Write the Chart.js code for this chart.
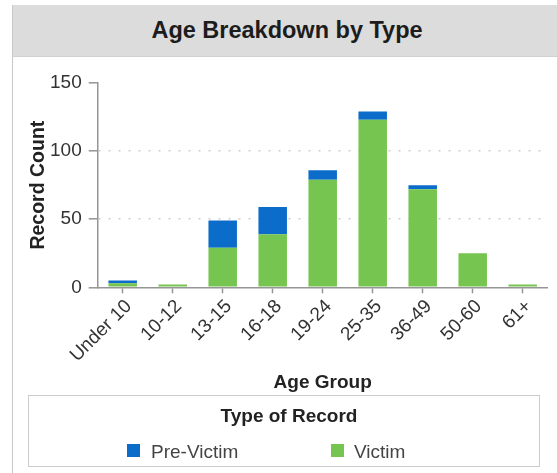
<!DOCTYPE html>
<html>
<head>
<meta charset="utf-8">
<title>Age Breakdown by Type</title>
<script src="https://cdn.jsdelivr.net/npm/chart.js@4.4.1/dist/chart.umd.min.js"></script>
<style>
  html, body { margin: 0; padding: 0; background: #ffffff; }
  body {
    width: 557px; height: 473px; overflow: hidden; position: relative;
    font-family: "Liberation Sans", Arial, Helvetica, sans-serif;
  }
  #panel {
    position: absolute; left: 12px; top: 5px; width: 560px; height: 480px;
    border-left: 1px solid #c8c8c8; border-top: 1px solid #cfcfcf; box-sizing: border-box;
  }
  #header {
    position: absolute; left: 12px; top: 5px; width: 560px; height: 52px;
    background: #dcdcdc; border-bottom: 1px solid #d0d0d0;
    border-left: 1px solid #c8c8c8; box-sizing: border-box;
  }
  #header h1 {
    margin: 0; position: absolute; left: 0; top: 0; width: 548px;
    line-height: 51px; text-align: center;
    font-size: 23.5px; font-weight: bold; color: #1c1c1c;
  }
  #chart { position: absolute; left: 0; top: 0; }
  #legend {
    position: absolute; left: 28px; top: 395px; width: 512px; height: 72px;
    border: 1px solid #cccccc; box-sizing: border-box;
  }
  #legend .ltitle {
    position: absolute; left: 0; top: 9px; width: 520px; text-align: center;
    line-height: 22px; font-size: 19px; font-weight: bold; color: #222222;
  }
  #legend .item {
    position: absolute; top: 45px; line-height: 22px; font-size: 19px; color: #444444;
    white-space: nowrap;
  }
  #legend .swatch {
    position: absolute; top: 48px; width: 13px; height: 13px;
  }
</style>
</head>
<body>
<div id="panel"></div>
<div id="header"><h1>Age Breakdown by Type</h1></div>
<canvas id="chart" width="557" height="473"></canvas>
<div id="legend"></div>

<script>
// Record counts per age group
const ageGroups = ['Under 10', '10-12', '13-15', '16-18', '19-24', '25-35', '36-49', '50-60', '61+'];
const victimCounts = [3, 2, 29, 39, 79, 123, 72, 25, 2];
const preVictimCounts = [2, 0, 20, 20, 7, 6, 3, 0, 0];
const countTicks = [0, 50, 100, 150];

const seriesNames = ['Pre-Victim', 'Victim'];
const seriesColors = { 'Pre-Victim': '#0b6cca', 'Victim': '#76c551' };

// Legend box with title and two entries
(function buildLegend() {
  const box = document.getElementById('legend');
  const t = document.createElement('div');
  t.className = 'ltitle';
  t.textContent = 'Type of Record';
  box.appendChild(t);
  const slots = [{ sw: 98, tx: 122 }, { sw: 302, tx: 325 }];
  seriesNames.forEach((name, i) => {
    const sw = document.createElement('div');
    sw.className = 'swatch';
    sw.style.left = slots[i].sw + 'px';
    sw.style.background = seriesColors[name];
    box.appendChild(sw);
    const tx = document.createElement('div');
    tx.className = 'item';
    tx.style.left = slots[i].tx + 'px';
    tx.textContent = name;
    box.appendChild(tx);
  });
})();

const FONT = '"Liberation Sans", Arial, Helvetica, sans-serif';
const axisGrey = '#959595';

new Chart(document.getElementById('chart'), {
  type: 'bar',
  data: {
    labels: ageGroups,
    datasets: [
      {
        label: 'Victim',
        data: victimCounts,
        backgroundColor: seriesColors['Victim'],
        barPercentage: 0.57,
        categoryPercentage: 1.0
      },
      {
        label: 'Pre-Victim',
        data: preVictimCounts,
        backgroundColor: seriesColors['Pre-Victim'],
        barPercentage: 0.57,
        categoryPercentage: 1.0
      }
    ]
  },
  options: {
    responsive: false,
    animation: false,
    layout: { padding: { top: 83, right: 9.3, bottom: 77.7, left: 0 } },
    plugins: {
      legend: { display: false },
      title: { display: false },
      tooltip: { enabled: false }
    },
    scales: {
      x: {
        stacked: true,
        offset: true,
        afterFit: (s) => { s.height = 108; },
        grid: {
          display: true,
          offset: false,
          drawOnChartArea: false,
          tickLength: 6,
          tickColor: axisGrey,
          tickWidth: 1.5
        },
        border: { display: true, color: axisGrey, width: 1.5 },
        ticks: {
          autoSkip: false,
          minRotation: 45,
          maxRotation: 45,
          padding: 2,
          labelOffset: 6,
          color: '#333333',
          font: { family: FONT, size: 19 }
        },
        title: {
          display: true,
          text: 'Age Group',
          color: '#222222',
          padding: { top: 0, bottom: 1 },
          font: { family: FONT, size: 19, weight: 'bold' }
        }
      },
      y: {
        stacked: true,
        min: countTicks[0],
        max: countTicks[countTicks.length - 1],
        afterFit: (s) => { s.width = 97.7; },
        afterBuildTicks: (s) => { s.ticks = countTicks.map(v => ({ value: v })); },
        grid: {
          color: (ctx) => (ctx.tick && ctx.tick.value > countTicks[0] &&
                           ctx.tick.value < countTicks[countTicks.length - 1]) ? '#cfcfcf' : 'rgba(0,0,0,0)',
          lineWidth: 1.6,
          tickLength: 9,
          tickColor: axisGrey,
          tickWidth: 1.5,
          tickBorderDash: []
        },
        border: { display: true, color: axisGrey, width: 1.5, dash: [2, 8] },
        ticks: {
          padding: 7,
          color: '#333333',
          font: { family: FONT, size: 19 }
        },
        title: {
          display: true,
          text: 'Record Count',
          color: '#222222',
          padding: { top: 26.6, bottom: 0 },
          font: { family: FONT, size: 19.5, weight: 'bold' }
        }
      }
    }
  }
});
</script>
</body>
</html>
